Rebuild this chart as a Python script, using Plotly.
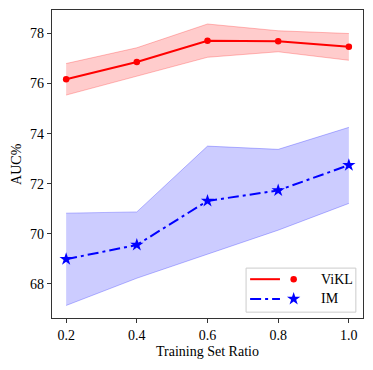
""" AUC vs training set ratio, ViKL vs IM """

import plotly.graph_objects as go

# data
ratios = [0.2, 0.4, 0.6, 0.8, 1.0]

vikl_mean = [76.17, 76.86, 77.71, 77.69, 77.47]
vikl_low = [75.54, 76.30, 77.05, 77.27, 76.93]
vikl_high = [76.80, 77.43, 78.38, 78.11, 78.00]

im_mean = [68.98, 69.55, 71.31, 71.73, 72.74]
im_low = [67.13, 68.22, 69.18, 70.14, 71.21]
im_high = [70.82, 70.87, 73.50, 73.37, 74.25]

y_ticks = [68, 70, 72, 74, 76, 78]
x_ticks = [0.2, 0.4, 0.6, 0.8, 1.0]

FONT = '"Liberation Serif", "Times New Roman", Times, serif'
AXIS_COLOR = "#333333"

fig = go.Figure()


def add_band(low, high, fill, edge):
    fig.add_trace(go.Scatter(x=ratios, y=low, mode="lines", line=dict(color=edge, width=1),
                             showlegend=False, hoverinfo="skip"))
    fig.add_trace(go.Scatter(x=ratios, y=high, mode="lines", line=dict(color=edge, width=1),
                             fill="tonexty", fillcolor=fill, showlegend=False, hoverinfo="skip"))


add_band(vikl_low, vikl_high, "rgba(255,0,0,0.2)", "rgba(255,0,0,0.25)")
add_band(im_low, im_high, "rgba(0,0,255,0.2)", "rgba(0,0,255,0.25)")

fig.add_trace(go.Scatter(x=ratios, y=vikl_mean, mode="lines+markers", name="ViKL",
                         line=dict(color="red", width=2),
                         marker=dict(symbol="circle", size=6.5, color="red"), showlegend=False))
fig.add_trace(go.Scatter(x=ratios, y=im_mean, mode="lines+markers", name="IM",
                         line=dict(color="blue", width=2, dash="11px,4px,3px,4px"),
                         marker=dict(symbol="star", size=10, color="blue"), showlegend=False))

# hand drawn legend (line sample, then marker, then label) on an overlay axis in 0..1 units
legend_names = ["ViKL", "IM"]
legend_colors = ["red", "blue"]
legend_symbols = ["circle", "star"]
legend_sizes = [6.5, 10]
legend_dash = ["solid", "11px,4px,3px,4px"]
legend_rows = [0.126, 0.062]

fig.add_shape(type="rect", xref="paper", yref="paper", x0=0.624, x1=0.977, y0=0.019, y1=0.162,
              line=dict(color="#cccccc", width=1), fillcolor="white", layer="below")
for name, color, sym, size, dash, row in zip(legend_names, legend_colors, legend_symbols,
                                              legend_sizes, legend_dash, legend_rows):
    fig.add_trace(go.Scatter(x=[0.637, 0.733], y=[row, row], mode="lines", xaxis="x2", yaxis="y2",
                             line=dict(color=color, width=2, dash=dash), showlegend=False,
                             hoverinfo="skip"))
    fig.add_trace(go.Scatter(x=[0.777], y=[row], mode="markers", xaxis="x2", yaxis="y2",
                             marker=dict(symbol=sym, size=size, color=color), showlegend=False,
                             hoverinfo="skip"))
    fig.add_annotation(x=0.858, y=row, xref="paper", yref="paper", text=name, showarrow=False,
                       xanchor="left", yanchor="middle", font=dict(family=FONT, size=14, color="black"))

# axis titles as annotations so the plot area keeps its fixed margins
fig.add_annotation(x=0.5, y=-0.110, xref="paper", yref="paper", text="Training Set Ratio",
                   showarrow=False, xanchor="center", yanchor="middle",
                   font=dict(family=FONT, size=14, color="black"))
fig.add_annotation(x=-0.116, y=0.5, xref="paper", yref="paper", text="AUC%", textangle=-90,
                   showarrow=False, xanchor="center", yanchor="middle",
                   font=dict(family=FONT, size=14, color="black"))

axis_common = dict(showline=True, linecolor=AXIS_COLOR, linewidth=1.2, mirror=True, ticks="outside",
                   ticklen=4, tickcolor=AXIS_COLOR, showgrid=False, zeroline=False, automargin=False,
                   tickfont=dict(family=FONT, size=14, color="black"))

fig.update_layout(
    width=373,
    height=370,
    margin=dict(l=52, r=10, t=10, b=52),
    plot_bgcolor="white",
    paper_bgcolor="white",
    font=dict(family=FONT),
    xaxis=dict(range=[0.16, 1.04], tickvals=x_ticks, ticktext=[f"{v:.1f}" for v in x_ticks],
               **axis_common),
    yaxis=dict(range=[66.63, 78.94], tickvals=y_ticks, **axis_common),
    xaxis2=dict(range=[0, 1], overlaying="x", visible=False, fixedrange=True),
    yaxis2=dict(range=[0, 1], overlaying="y", visible=False, fixedrange=True),
)

# drop the browser's default body margin so the figure sits at the page corner
fig.write_html("out.html", config={"displayModeBar": False},
               post_script="document.body.style.margin = '0';")
